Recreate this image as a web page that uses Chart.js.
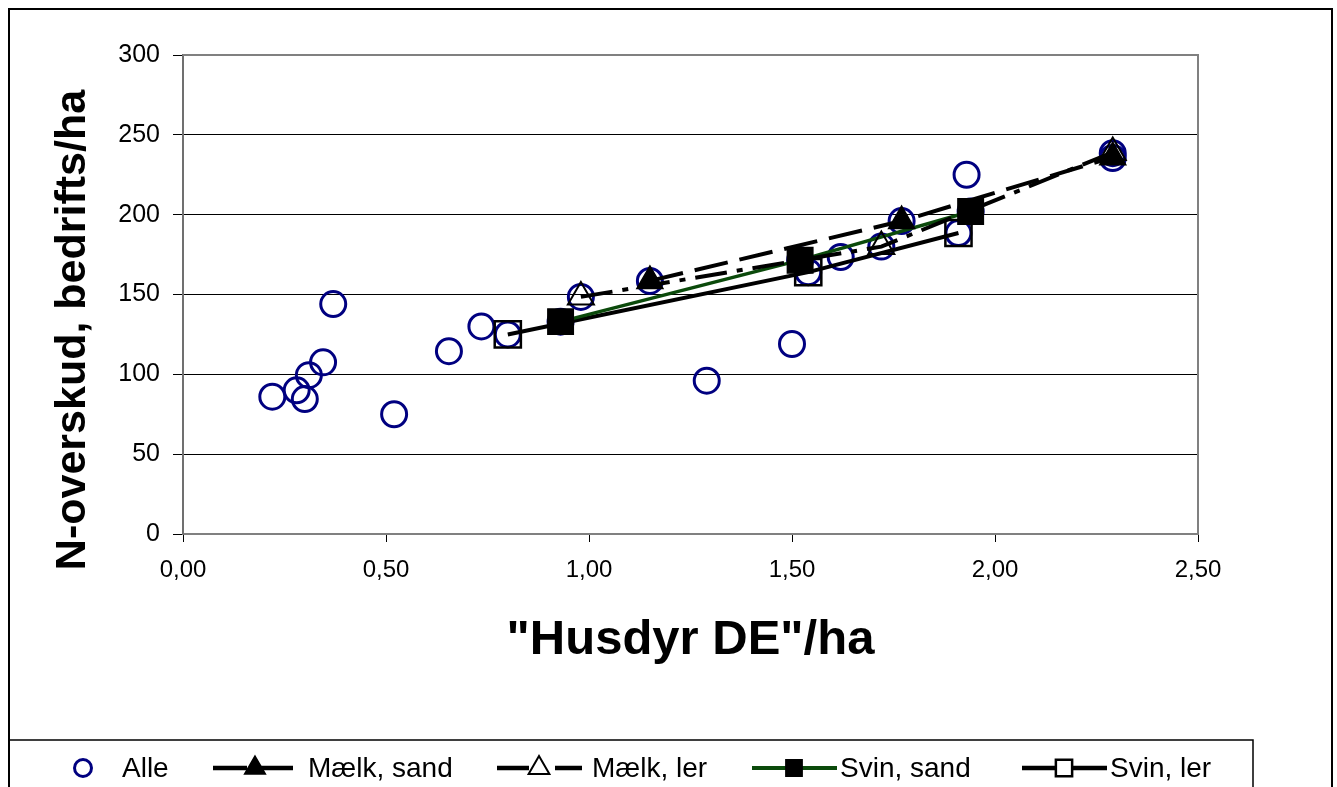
<!DOCTYPE html>
<html>
<head>
<meta charset="utf-8">
<script src="https://cdn.jsdelivr.net/npm/chart.js@4/dist/chart.umd.min.js"></script>
<style>
html, body { margin: 0; padding: 0; background: #fff; }
#wrap { width: 1337px; height: 787px; position: relative; }
</style>
</head>
<body>
<div id="wrap"><canvas id="chart"></canvas></div>
<script>
// x: "Husdyr DE"/ha, y: N-overskud, bedrifts/ha
let alleX = [0.22, 0.28, 0.30, 0.31, 0.345, 0.37, 0.52, 0.655, 0.735, 0.80, 0.93, 0.98, 1.15,
    1.29, 1.50, 1.52, 1.54, 1.62, 1.72, 1.77, 1.93, 1.91, 1.94, 2.29, 2.29];
let alleY = [86, 90, 84.5, 99.5, 107.5, 144, 75, 114.5, 130, 125, 133, 148.5, 158.5,
    96, 119, 171.5, 164, 173.5, 180, 196, 225, 188.5, 202, 238.5, 235.5];

let maelkSandX = [1.15, 1.77, 2.29];
let maelkSandY = [158.5, 196, 236];
let maelkLerX = [0.98, 1.72, 2.29];
let maelkLerY = [148.5, 180, 239];
let svinSandX = [0.93, 1.52, 1.94];
let svinSandY = [133, 171.5, 202];
let svinLerX = [0.80, 1.54, 1.91];
let svinLerY = [125, 164, 188.5];

let seriesLabels = ['Alle', 'Mælk, sand', 'Mælk, ler', 'Svin, sand', 'Svin, ler'];
let xTitle = '"Husdyr DE"/ha';
let yTitle = 'N-overskud, bedrifts/ha';

const FONT = "'Liberation Sans', Arial, sans-serif";

function ToPoints(xs, ys) {
    return xs.map(function (x, i) { return { x: x, y: ys[i] }; });
}

// legend layout (symbol start, text start) and marker sizes used in the legend
let legendSymbolX = [41, 213, 497, 752, 1022];
let legendTextX = [122, 308, 592, 840, 1110];
let legendRadius = [8.5, 12, 12, 11.5, 11.5];

let excelFrame = {
    id: 'excelFrame',
    beforeDraw: function (chart) {
        let ctx = chart.ctx;
        ctx.save();
        ctx.fillStyle = '#fff';
        ctx.fillRect(0, 0, chart.width, chart.height);
        ctx.strokeStyle = '#000';
        ctx.lineWidth = 2;
        ctx.strokeRect(9, 9, 1323, 800);
        ctx.restore();
    },
    afterDatasetsDraw: function (chart) {
        let ctx = chart.ctx;
        let a = chart.chartArea;
        ctx.save();
        ctx.strokeStyle = '#808080';
        ctx.lineWidth = 2;
        ctx.beginPath();
        ctx.moveTo(a.left, a.top);
        ctx.lineTo(a.right, a.top);
        ctx.lineTo(a.right, a.bottom);
        ctx.stroke();
        ctx.restore();
    },
    afterDraw: function (chart) {
        let ctx = chart.ctx;
        ctx.save();
        // y axis title
        ctx.translate(85, 330);
        ctx.rotate(-Math.PI / 2);
        ctx.fillStyle = '#000';
        ctx.font = 'bold 43px ' + FONT;
        ctx.textAlign = 'center';
        ctx.textBaseline = 'alphabetic';
        ctx.fillText(yTitle, 0, 0);
        ctx.restore();

        // legend box
        ctx.save();
        ctx.strokeStyle = '#000';
        ctx.lineWidth = 1.5;
        ctx.beginPath();
        ctx.moveTo(9, 740);
        ctx.lineTo(1253, 740);
        ctx.lineTo(1253, 790);
        ctx.stroke();

        let ly = 768;
        chart.data.datasets.forEach(function (ds, i) {
            let sx = legendSymbolX[i];
            let cx = sx + 42;
            if (ds.showLine) {
                ctx.save();
                ctx.strokeStyle = ds.borderColor;
                ctx.lineWidth = ds.borderWidth + 0.5;
                ctx.setLineDash(ds.borderDash || []);
                ctx.beginPath();
                ctx.moveTo(sx, ly);
                ctx.lineTo(sx + 85, ly);
                ctx.stroke();
                ctx.restore();
            }
            ctx.save();
            ctx.fillStyle = ds.pointBackgroundColor;
            ctx.strokeStyle = ds.pointBorderColor;
            ctx.lineWidth = ds.pointBorderWidth;
            if (ds.pointBackgroundColor === 'rgba(255,255,255,0)' && ds.showLine) {
                ctx.fillStyle = '#fff';
            }
            Chart.helpers.drawPoint(ctx, {
                pointStyle: ds.pointStyle,
                radius: legendRadius[i],
                borderWidth: ds.pointBorderWidth,
                rotation: 0
            }, cx, ly);
            ctx.restore();

            ctx.fillStyle = '#000';
            ctx.font = '28px ' + FONT;
            ctx.textAlign = 'left';
            ctx.textBaseline = 'middle';
            ctx.fillText(seriesLabels[i], legendTextX[i], ly + 1);
        });
        ctx.restore();
    }
};

let chartData = {
    datasets: [{
        label: seriesLabels[0],
        data: ToPoints(alleX, alleY),
        showLine: false,
        pointStyle: 'circle',
        pointRadius: 12.5,
        pointBorderWidth: 3,
        pointBorderColor: '#000080',
        pointBackgroundColor: 'rgba(255,255,255,0)',
        borderColor: '#000080',
        order: 5
    }, {
        label: seriesLabels[1],
        data: ToPoints(maelkSandX, maelkSandY),
        showLine: true,
        borderColor: '#000',
        borderWidth: 4,
        borderDash: [34, 12],
        pointStyle: 'triangle',
        pointRadius: 15,
        pointBorderWidth: 1.5,
        pointBorderColor: '#000',
        pointBackgroundColor: '#000',
        order: 1
    }, {
        label: seriesLabels[2],
        data: ToPoints(maelkLerX, maelkLerY),
        showLine: true,
        borderColor: '#000',
        borderWidth: 4,
        borderDash: [32, 10, 6, 10],
        pointStyle: 'triangle',
        pointRadius: 15,
        pointBorderWidth: 2,
        pointBorderColor: '#000',
        pointBackgroundColor: 'rgba(255,255,255,0)',
        order: 1
    }, {
        label: seriesLabels[3],
        data: ToPoints(svinSandX, svinSandY),
        showLine: true,
        borderColor: '#0b4a0b',
        borderWidth: 3.5,
        pointStyle: 'rect',
        pointRadius: 18,
        pointBorderWidth: 1.5,
        pointBorderColor: '#000',
        pointBackgroundColor: '#000',
        order: 1
    }, {
        label: seriesLabels[4],
        data: ToPoints(svinLerX, svinLerY),
        showLine: true,
        borderColor: '#000',
        borderWidth: 4,
        pointStyle: 'rect',
        pointRadius: 18.5,
        pointBorderWidth: 2.5,
        pointBorderColor: '#000',
        pointBackgroundColor: 'rgba(255,255,255,0)',
        order: 1
    }]
};

window.nChart = new Chart(document.getElementById('chart').getContext('2d'), {
    type: 'scatter',
    data: chartData,
    plugins: [excelFrame],
    options: {
        responsive: true,
        maintainAspectRatio: false,
        animation: false,
        events: [],
        layout: { padding: { left: 0, right: 139, top: 55, bottom: 0 } },
        plugins: {
            legend: { display: false },
            tooltip: { enabled: false }
        },
        elements: { line: { tension: 0, fill: false } },
        scales: {
            x: {
                type: 'linear',
                min: 0,
                max: 2.5,
                afterFit: function (scale) { scale.height = 253; },
                ticks: {
                    stepSize: 0.5,
                    color: '#000',
                    padding: 14,
                    maxRotation: 0,
                    font: { family: FONT, size: 24 },
                    callback: function (v) { return v.toFixed(2).replace('.', ','); }
                },
                grid: {
                    drawOnChartArea: false,
                    drawTicks: true,
                    tickLength: 8,
                    tickColor: '#000',
                    tickWidth: 1
                },
                border: { display: true, color: '#808080', width: 2 },
                title: {
                    display: true,
                    text: xTitle,
                    color: '#000',
                    font: { family: FONT, size: 49, weight: 'bold' },
                    padding: { top: 0, bottom: 117 }
                }
            },
            y: {
                min: 0,
                max: 300,
                afterFit: function (scale) { scale.width = 183; },
                ticks: {
                    stepSize: 50,
                    color: '#000',
                    padding: 13,
                    font: { family: FONT, size: 25 }
                },
                grid: {
                    color: function (c) {
                        return (c.tick && (c.tick.value === 300 || c.tick.value === 0)) ? 'rgba(0,0,0,0)' : '#000';
                    },
                    lineWidth: 1,
                    tickLength: 10,
                    tickColor: '#000',
                    tickWidth: 1
                },
                border: { display: true, color: '#707070', width: 2 }
            }
        }
    }
});
</script>
</body>
</html>
